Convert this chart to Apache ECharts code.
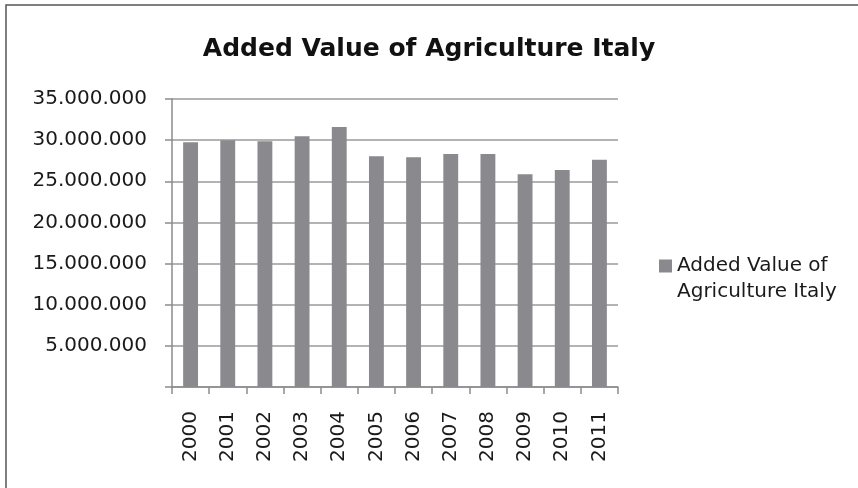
<!DOCTYPE html>
<html>
<head>
<meta charset="utf-8">
<script src="https://cdn.jsdelivr.net/npm/echarts@6/dist/echarts.min.js"></script>
<style>
  html, body { margin: 0; padding: 0; background: #fff; }
  #chart { width: 858px; height: 488px; }
</style>
</head>
<body>
<div id="chart"></div>
<script>
// Added value of agriculture in Italy, 2000-2011
const titleText = 'Added Value of Agriculture Italy';
const seriesName = 'Added Value of Agriculture Italy';
const years = ['2000', '2001', '2002', '2003', '2004', '2005',
               '2006', '2007', '2008', '2009', '2010', '2011'];
const addedValue = [29740000, 29980000, 29860000, 30460000, 31600000, 28030000,
                    27910000, 28310000, 28310000, 25850000, 26370000, 27620000];
const yMin = 0;
const yMax = 35000000;
const yStep = 5000000;

// thousands separated with dots; zero is left blank
function fmt(v) {
  if (v === 0) return '';
  return String(Math.round(v)).replace(/\B(?=(\d{3})+(?!\d))/g, '.');
}

const FONT = 'DejaVu Sans';
const chart = echarts.init(document.getElementById('chart'), null, { renderer: 'canvas' });
chart.setOption({
  backgroundColor: '#ffffff',
  animation: false,
  title: {
    text: titleText,
    left: 'center',
    top: 32,
    textStyle: { fontFamily: FONT, fontWeight: 'bold', fontSize: 25, color: '#111111' }
  },
  legend: {
    left: 654,
    top: 222,
    orient: 'vertical',
    itemWidth: 13,
    itemHeight: 13,
    icon: 'rect',
    data: [seriesName],
    // blank first line keeps the swatch level with the first text line
    formatter: function () { return ' \nAdded Value of\nAgriculture Italy'; },
    textStyle: { fontFamily: FONT, fontSize: 20, color: '#1a1a1a', lineHeight: 26 }
  },
  grid: { left: 172, right: 240, top: 99, bottom: 101, containLabel: false },
  xAxis: {
    type: 'category',
    data: years,
    axisLine: { lineStyle: { color: '#8c8c8c', width: 1.5 } },
    axisTick: { show: true, alignWithLabel: false, length: 7, lineStyle: { color: '#8c8c8c', width: 1.5 } },
    axisLabel: { rotate: 90, margin: 24, fontFamily: FONT, fontSize: 20, color: '#1a1a1a' }
  },
  yAxis: {
    type: 'value',
    min: yMin,
    max: yMax,
    interval: yStep,
    axisLine: { show: true, lineStyle: { color: '#8c8c8c', width: 1.5 } },
    axisTick: { show: true, length: 7, lineStyle: { color: '#8c8c8c', width: 1.5 } },
    splitLine: { show: true, lineStyle: { color: '#9a9a9a', width: 1.5 } },
    axisLabel: { margin: 25, fontFamily: FONT, fontSize: 20, color: '#1a1a1a', formatter: fmt }
  },
  series: [{
    name: seriesName,
    type: 'bar',
    data: addedValue,
    barCategoryGap: '60%',
    itemStyle: { color: '#8a8a8e' }
  }],
  graphic: [{
    type: 'rect',
    shape: { x: 6, y: 5, width: 900, height: 600 },
    style: { fill: 'none', stroke: '#555555', lineWidth: 1.5 },
    silent: true
  }]
});
</script>
</body>
</html>
